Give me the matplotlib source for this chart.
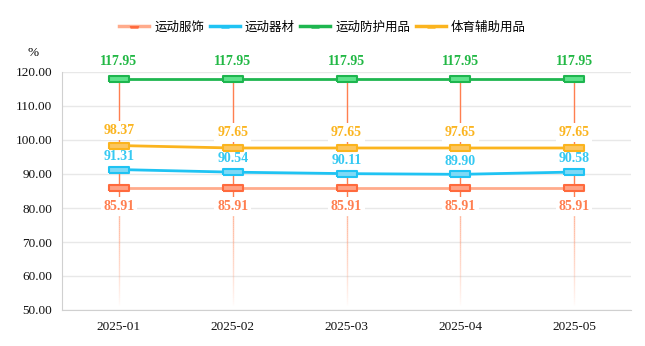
import matplotlib
matplotlib.use("Agg")
import matplotlib.pyplot as plt
import numpy as np
from matplotlib.collections import LineCollection
from matplotlib.lines import Line2D

plt.rcParams['font.family'] = ['Noto Sans CJK SC', 'DejaVu Sans']

months = ["2025-01", "2025-02", "2025-03", "2025-04", "2025-05"]
series_names = ["运动服饰", "运动器材", "运动防护用品", "体育辅助用品"]
apparel = [85.91, 85.91, 85.91, 85.91, 85.91]
equipment = [91.31, 90.54, 90.11, 89.90, 90.58]
protective = [117.95, 117.95, 117.95, 117.95, 117.95]
auxiliary = [98.37, 97.65, 97.65, 97.65, 97.65]
y_ticks = [50, 60, 70, 80, 90, 100, 110, 120]

styles = {
    "运动服饰": dict(line="#ffab8c", edge="#ff6a3d", fill="#ffa285", text="#ff7f50", dy=-13.5),
    "运动器材": dict(line="#1fc3f3", edge="#1fc3f3", fill="#7fd9f6", text="#35c9f2", dy=9.5),
    "运动防护用品": dict(line="#1eb64f", edge="#1eb64f", fill="#5fe28c", text="#22b845", dy=12.5),
    "体育辅助用品": dict(line="#fbb41e", edge="#fbb41e", fill="#fcc660", text="#fbb520", dy=11),
}
values = {"运动服饰": apparel, "运动器材": equipment,
          "运动防护用品": protective, "体育辅助用品": auxiliary}

fig = plt.figure(figsize=(6.45, 3.46), dpi=100)
ax = fig.add_axes([62 / 645, 1 - 310 / 346, (631 - 62) / 645, (310 - 72) / 346])
x = np.arange(len(months))

ax.set_xlim(-0.5, len(months) - 0.5)
ax.set_ylim(50, 120)
ax.set_yticks(y_ticks)
ax.set_yticklabels([f"{v:.2f}" for v in y_ticks], family="Liberation Serif", fontsize=9.5, color="#111111")
ax.set_xticks(x)
ax.set_xticklabels(months, family="Liberation Serif", fontsize=9.5, color="#111111")
ax.tick_params(length=0)
ax.tick_params(axis="y", pad=7)
ax.tick_params(axis="x", pad=8)
ax.grid(axis="y", color="#e8e8e8", lw=1)
ax.set_axisbelow(True)
for s in ["top", "right"]:
    ax.spines[s].set_visible(False)
for s in ["left", "bottom"]:
    ax.spines[s].set_color("#d0d0d0")

# drop lines from the top series down to the axis, fading out near the bottom
top = np.array(protective)
for xi, yt in zip(x, top):
    ax.plot([xi, xi], [80, yt], color="#ff7f50", lw=1, zorder=1.5)
    ys = np.linspace(51, 80, 50)
    segs = [[(xi, ys[i]), (xi, ys[i + 1])] for i in range(len(ys) - 1)]
    alphas = np.linspace(0.0, 1.0, len(segs)) ** 0.8 * 0.75
    cols = [(1.0, 0.6, 0.45, a) for a in alphas]
    ax.add_collection(LineCollection(segs, colors=cols, lw=1, zorder=1.5))

rect = [(-1, -0.33), (1, -0.33), (1, 0.33), (-1, 0.33), (-1, -0.33)]
for name in series_names:
    st = styles[name]
    v = values[name]
    ax.plot(x, v, color=st["line"], lw=2, zorder=3)
    ax.plot(x, v, ls="none", marker=rect, markersize=15, markerfacecolor=st["fill"],
            markeredgecolor=st["edge"], markeredgewidth=1.5, zorder=4)
    for xi, yi in zip(x, v):
        ax.annotate(f"{yi:.2f}", (xi, yi), xytext=(0, st["dy"]), textcoords="offset points",
                    ha="center", va="center", family="Liberation Serif", fontweight="bold",
                    fontsize=10, color=st["text"], zorder=2.5,
                    bbox=dict(boxstyle="square,pad=0.2", fc="white", ec="none"))

fig.text(28 / 645, 1 - 53 / 346, "%", fontsize=9.5, family="Liberation Serif", ha="left", va="center")

# legend handles: a line with a small dark tab hanging below its centre
tab = [(-1, 0.1), (1, 0.1), (0.8, -0.45), (-0.8, -0.45), (-1, 0.1)]
handles = []
for n in series_names:
    st = styles[n]
    handles.append(Line2D([0], [0], color=st["line"], lw=2.5, marker=tab, markersize=7,
                          markerfacecolor=st["edge"], markeredgecolor=st["edge"], markeredgewidth=0))
fig.legend(handles, series_names, loc="center", bbox_to_anchor=(0.5, 1 - 27 / 346), ncol=4,
           frameon=False, fontsize=9, handlelength=2.4, handletextpad=0.4, columnspacing=0.45)

fig.savefig("out.png", dpi=100)
